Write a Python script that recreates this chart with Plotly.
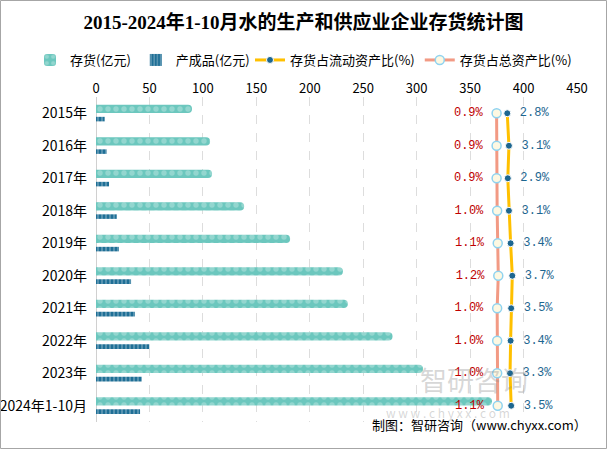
import plotly.graph_objects as go

# data
years = ['2015年', '2016年', '2017年', '2018年', '2019年',
         '2020年', '2021年', '2022年', '2023年', '2024年1-10月']
stock = [89.8, 106.7, 108.6, 138.6, 181.6, 231.0, 235.6, 277.4, 305.9, 370.5]
product = [8.1, 10.0, 12.2, 19.4, 21.5, 32.8, 36.5, 49.9, 42.8, 41.2]
ratio_current = [2.8, 3.1, 2.9, 3.1, 3.4, 3.7, 3.5, 3.4, 3.3, 3.5]
ratio_total = [0.9, 0.9, 0.9, 1.0, 1.1, 1.2, 1.0, 1.0, 1.0, 1.1]

L, R, T, B = 96, 30, 97, 27
W, H = 607, 449
pw, ph = W - L - R, H - T - B

def px(x):
    return (x - L) / pw

def py(y):
    return (H - B - y) / ph

font_cn = 'Noto Sans CJK SC'

fig = go.Figure()

fig.add_trace(go.Bar(
    y=years, x=stock, orientation='h', name='存货(亿元)',
    offset=-0.265, width=0.26,
    marker=dict(color='#6CC7BE', line=dict(width=0),
                pattern=dict(shape='.', fgcolor='#B9E6E0', size=8, solidity=0.35, fillmode='overlay'),
                cornerradius=4),
))
fig.add_trace(go.Bar(
    y=years, x=product, orientation='h', name='产成品(亿元)',
    offset=0.11, width=0.14,
    marker=dict(color='#1F6F96', line=dict(width=0),
                pattern=dict(shape='|', fgcolor='#FFFFFF', size=4, solidity=0.25, fillmode='overlay')),
))
fig.add_trace(go.Scatter(
    y=years, x=ratio_current, xaxis='x2', name='存货占流动资产比(%)',
    mode='lines+markers+text', legend='legend2',
    line=dict(color='#FFC000', width=3),
    marker=dict(color='#1D6690', size=7, line=dict(color='#FFFFFF', width=1)),
    text=[f' {v:.1f}%' for v in ratio_current], textposition='middle right',
    textfont=dict(family='Liberation Mono', size=12, color='#1D6690'),
))
fig.add_trace(go.Scatter(
    y=years, x=ratio_total, xaxis='x2', name='存货占总资产比(%)',
    mode='lines+markers+text', legend='legend2',
    line=dict(color='#F29A84', width=3),
    marker=dict(color='#FDF8E2', size=9, line=dict(color='#8FD3F0', width=1.5)),
    text=[f'{v:.1f}% ' for v in ratio_total], textposition='middle left',
    textfont=dict(family='Liberation Mono', size=12, color='#C00000'),
))

leg = dict(orientation='h', xref='container', yref='container', xanchor='left',
           y=1 - 60 / H, yanchor='middle', font=dict(size=13), traceorder='normal',
           itemwidth=30, bgcolor='rgba(0,0,0,0)')

fig.update_layout(
    width=W, height=H,
    margin=dict(l=L, r=R, t=T, b=B, autoexpand=False),
    paper_bgcolor='white', plot_bgcolor='white',
    barmode='overlay',
    font=dict(family=font_cn, size=13, color='#000000'),
    title=dict(text='<b>2015-2024年1-10月水的生产和供应业企业存货统计图</b>',
               x=0.5, xanchor='center', y=1 - 22 / H, yanchor='middle',
               font=dict(family='Liberation Serif, ' + font_cn, size=19, color='#000000')),
    legend=dict(leg, x=30 / W),
    legend2=dict(leg, x=250 / W),
    xaxis=dict(range=[0, 450], side='top', dtick=50, showgrid=True,
               gridcolor='#DDDDDD', griddash='dash', gridwidth=1,
               zeroline=True, zerolinecolor='#D0D0D0', zerolinewidth=1,
               showline=False, ticks='', tickfont=dict(size=13), automargin=False),
    xaxis2=dict(range=[-70.6, 15.25], overlaying='x', side='top', visible=False),
    yaxis=dict(range=[len(years) - 0.5, -0.5], showgrid=False, ticks='', automargin=False,
               tickfont=dict(size=14), ticklabelstandoff=8),
)

# outer frame
fig.add_shape(type='rect', xref='paper', yref='paper',
              x0=px(0.5), x1=px(W - 0.5), y0=py(H - 0.5), y1=py(0.5),
              line=dict(color='#A6A6A6', width=1), fillcolor='rgba(0,0,0,0)')

# watermark
fig.add_annotation(xref='paper', yref='paper', x=px(530), y=py(401), text='智研咨询',
                   showarrow=False, font=dict(size=27, color='rgba(140,140,140,0.35)'))
fig.add_annotation(xref='paper', yref='paper', x=px(512), y=py(423),
                   text='w w w . c h y x x . c o m', showarrow=False,
                   font=dict(size=12, color='rgba(140,140,140,0.35)'))
fig.add_annotation(xref='paper', yref='paper', x=px(589), y=py(436), xanchor='right',
                   text='制图：智研咨询（www.chyxx.com）', showarrow=False,
                   font=dict(size=13, color='#000000'))

fig.write_html("out.html", config={'displayModeBar': False},
               post_script="document.body.style.margin='0';")
